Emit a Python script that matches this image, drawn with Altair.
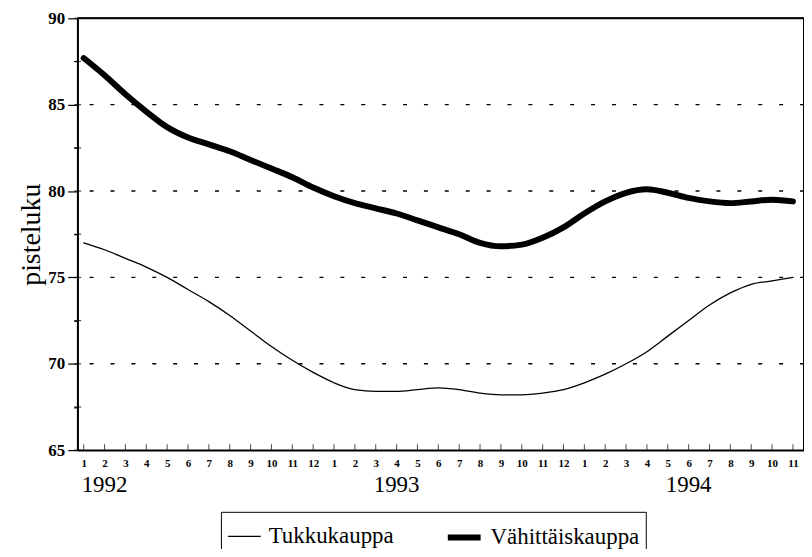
import altair as alt
import pandas as pd

# ---- data ----
months = list(range(35))  # 1992-01 ... 1994-11
tukkukauppa = [77.0, 76.6, 76.1, 75.6, 75.0, 74.3, 73.6, 72.8, 71.9, 71.0, 70.2, 69.5,
               68.9, 68.5, 68.4, 68.4, 68.5, 68.6, 68.5, 68.3, 68.2, 68.2, 68.3, 68.5,
               68.9, 69.4, 70.0, 70.7, 71.6, 72.5, 73.4, 74.1, 74.6, 74.8, 75.0]
vahittaiskauppa = [87.7, 86.7, 85.6, 84.6, 83.7, 83.1, 82.7, 82.3, 81.8, 81.3, 80.8, 80.2,
                   79.7, 79.3, 79.0, 78.7, 78.3, 77.9, 77.5, 77.0, 76.8, 76.9, 77.3, 77.9,
                   78.7, 79.4, 79.9, 80.1, 79.9, 79.6, 79.4, 79.3, 79.4, 79.5, 79.4]
series_names = ["Tukkukauppa", "Vähittäiskauppa"]
years = ["1992", "1993", "1994"]
year_at = [1, 15, 29]
grid_values = [70, 75, 80, 85]
frame_values = [90]
ytick_values = [65, 67.5, 70, 72.5, 75, 77.5, 80, 82.5, 85, 87.5, 90]

rows = []
for i, m in enumerate(months):
    rows.append({"t": m, "value": tukkukauppa[i], "series": series_names[0]})
    rows.append({"t": m, "value": vahittaiskauppa[i], "series": series_names[1]})
df = pd.DataFrame(rows)

SERIF = "Liberation Serif"
W, H = 730, 434
xscale = alt.Scale(domain=[-0.29, 34.53], nice=False, zero=False)
yscale = alt.Scale(domain=[65, 90], nice=False, zero=False)

xaxis = alt.Axis(values=months, labelExpr="(datum.value % 12) + 1", tickSize=0,
                 grid=False, domain=True, domainColor="black", domainWidth=1.5,
                 labelFont=SERIF, labelFontSize=11,
                 labelFontWeight="bold", labelColor="black", labelPadding=7,
                 title=None, labelOverlap=False)
yaxis = alt.Axis(values=ytick_values,
                 labelExpr="datum.value % 5 == 0 ? datum.label : ''",
                 tickSize={"condition": {"test": "datum.value % 5 === 0", "value": 10}, "value": 4},
                 tickColor="black", tickWidth=1.2, grid=False,
                 domain=True, domainColor="black", domainWidth=1.5,
                 labelFont=SERIF, labelFontSize=17, labelFontWeight="bold",
                 labelColor="black", labelPadding=3, labelOverlap=False,
                 title="pisteluku", titleFont=SERIF, titleFontSize=28,
                 titleFontWeight="normal", titleColor="black", titlePadding=2)

grid = alt.Chart(pd.DataFrame({"g": grid_values})).mark_rule(
    color="black", strokeWidth=1.4, strokeDash=[4, 17]
).encode(y=alt.Y("g:Q", scale=yscale, axis=yaxis))

# top edge of the frame at y = 90, drawn through the y scale
frame_top = alt.Chart(pd.DataFrame({"f": frame_values})).mark_rule(
    color="black", strokeWidth=2
).encode(y=alt.Y("f:Q", scale=yscale, axis=yaxis))
# right edge of the frame
frame_right = alt.Chart(pd.DataFrame({"f": frame_values})).mark_rule(
    color="black", strokeWidth=2
).encode(x=alt.value(W), y=alt.value(0), y2=alt.value(H))

lines = alt.Chart(df).mark_line(color="black", interpolate="monotone", strokeCap="round").encode(
    x=alt.X("t:Q", scale=xscale, axis=xaxis),
    y=alt.Y("value:Q", scale=yscale, axis=yaxis),
    strokeWidth=alt.StrokeWidth("series:N", scale=alt.Scale(domain=series_names, range=[1.3, 6]),
                                legend=alt.Legend(title=None, orient="none", legendX=144, legendY=496,
                                                  direction="horizontal", strokeColor="black",
                                                  padding=6, labelFont=SERIF, labelFontSize=23,
                                                  labelColor="black", symbolType="stroke",
                                                  symbolSize=1089, symbolStrokeColor="black",
                                                  columnPadding=42, labelOffset=7)),
)

xticks = alt.Chart(pd.DataFrame({"t": months})).mark_tick(
    color="black", size=6, thickness=1, yOffset=-3
).encode(x=alt.X("t:Q", scale=xscale, axis=xaxis), y=alt.value(H))

yticks = alt.Chart(pd.DataFrame({"v": ytick_values})).mark_tick(
    color="black", size=7, thickness=1.2
).encode(y=alt.Y("v:Q", scale=yscale, axis=yaxis), x=alt.value(0))

year_text = alt.Chart(pd.DataFrame({"t": year_at, "year": years})).mark_text(
    font=SERIF, fontSize=23, color="black", baseline="middle"
).encode(x=alt.X("t:Q", scale=xscale, axis=xaxis), y=alt.value(H + 35), text="year:N")

chart = alt.layer(grid, frame_top, frame_right, lines, xticks, yticks, year_text).properties(
    width=W, height=H,
    autosize=alt.AutoSizeParams(type="none"),
    padding={"left": 70, "top": 9, "right": 0, "bottom": 98},
).configure(background="white", font=SERIF).configure_view(stroke="black", strokeWidth=1.5)

chart.save("out.html", embed_options={"renderer": "svg", "actions": False})
